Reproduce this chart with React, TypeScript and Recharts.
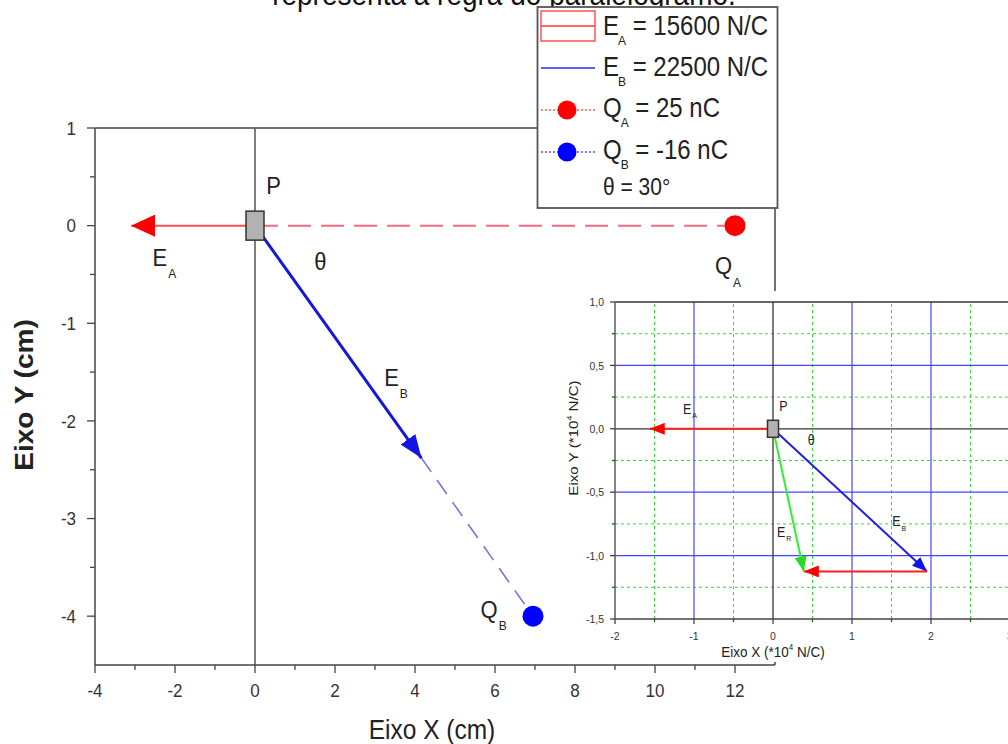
import React from 'react';
import { ComposedChart, Scatter, XAxis, YAxis, ReferenceLine, Label } from 'recharts';

const FONT = 'Arial, "Liberation Sans", Helvetica, sans-serif';
const SY = 1.12;
const AXIS = '#444';
const TXT = '#222';

// ---------- main chart (cm) ----------
const mainXTicks = [-4, -3, -2, -1, 0, 1, 2, 3, 4, 5, 6, 7, 8, 9, 10, 11, 12];
const mainYTicks = [1, 0.5, 0, -0.5, -1, -1.5, -2, -2.5, -3, -3.5, -4];
const pointP = [{ x: 0, y: 0 }];
const chargeA = [{ x: 12, y: 0 }];
const chargeB = [{ x: 6.95, y: -4 }];
const fieldA = [{ x: 0, y: 0 }, { x: -3.1, y: 0 }];
const guideA = [{ x: 0, y: 0 }, { x: 12, y: 0 }];
const fieldB = [{ x: 0, y: 0 }, { x: 4.16, y: -2.38 }];
const guideB = [{ x: 4.16, y: -2.38 }, { x: 6.95, y: -4 }];
const mainLabels = [
  { x: 0.28, y: 0.32, text: 'P', sub: '' },
  { x: 1.48, y: -0.45, text: 'θ', sub: '' },
  { x: -2.56, y: -0.41, text: 'E', sub: 'A' },
  { x: 11.5, y: -0.5, text: 'Q', sub: 'A' },
  { x: 3.23, y: -1.64, text: 'E', sub: 'B' },
  { x: 5.64, y: -4.02, text: 'Q', sub: 'B' },
];

// ---------- inset chart (*10^4 N/C) ----------
const insetXTicks = [-2, -1.5, -1, -0.5, 0, 0.5, 1, 1.5, 2, 2.5, 3];
const insetYTicks = [1, 0.75, 0.5, 0.25, 0, -0.25, -0.5, -0.75, -1, -1.25, -1.5];
const insetMajorX = [-1, 1, 2];
const insetMinorX = [-1.5, -0.5, 0.5, 1.5, 2.5];
const insetMajorY = [0.5, -0.5, -1];
const insetMinorY = [0.75, 0.25, -0.25, -0.75, -1.25];
const insetP = [{ x: 0, y: 0 }];
const insetEA = [{ x: 0, y: 0 }, { x: -1.56, y: 0 }];
const insetEB = [{ x: 0, y: 0 }, { x: 1.95, y: -1.125 }];
const insetEAshift = [{ x: 1.95, y: -1.125 }, { x: 0.39, y: -1.125 }];
const insetER = [{ x: 0, y: 0 }, { x: 0.39, y: -1.125 }];
const insetLabels = [
  { x: 0.08, y: 0.14, text: 'P', sub: '' },
  { x: 0.44, y: -0.13, text: 'θ', sub: '' },
  { x: -1.14, y: 0.12, text: 'E', sub: 'A' },
  { x: 1.51, y: -0.77, text: 'E', sub: 'B' },
  { x: 0.05, y: -0.85, text: 'E', sub: 'R' },
];

// ---------- legend ----------
const legendRows = [
  { main: 'E', sub: 'A', rest: ' = 15600 N/C', kind: 'box', color: '#ff3a3a' },
  { main: 'E', sub: 'B', rest: ' = 22500 N/C', kind: 'line', color: '#2a2aff' },
  { main: 'Q', sub: 'A', rest: ' = 25 nC', kind: 'dot', color: '#ff0000' },
  { main: 'Q', sub: 'B', rest: ' = -16 nC', kind: 'dot', color: '#0000ff' },
  { main: 'θ = 30°', sub: '', rest: '', kind: 'none', color: '' },
];
const titleText = 'representa a regra do paralelogramo.';

const noShape = () => <g />;

const makeTick = (o: { side: 'left' | 'bottom'; major: (v: number) => boolean; fmt: (v: number) => string; big: number; small: number; fs: number; off: number; }) =>
  (props: any) => {
    const { x, y, payload } = props;
    const v = payload.value as number;
    const mj = o.major(v);
    const len = mj ? o.big : o.small;
    if (o.side === 'left') {
      return (
        <g>
          <line x1={x} x2={x - len} y1={y} y2={y} stroke={AXIS} strokeWidth={1.3} />
          {mj && (
            <text transform={`translate(${x - o.off},${y + o.fs * 0.716 * SY / 2}) scale(1,${SY})`} textAnchor="end" fontFamily={FONT} fontSize={o.fs} fill="#333">
              {o.fmt(v)}
            </text>
          )}
        </g>
      );
    }
    return (
      <g>
        <line x1={x} x2={x} y1={y} y2={y + len} stroke={AXIS} strokeWidth={1.3} />
        {mj && (
          <text transform={`translate(${x},${y + o.off}) scale(1,${SY})`} textAnchor="middle" fontFamily={FONT} fontSize={o.fs} fill="#333">
            {o.fmt(v)}
          </text>
        )}
      </g>
    );
  };

const MainYTick = makeTick({ side: 'left', major: (v) => Number.isInteger(v), fmt: (v) => String(v), big: 8, small: 5, fs: 17, off: 19 });
const MainXTick = makeTick({ side: 'bottom', major: (v) => v % 2 === 0, fmt: (v) => String(v), big: 8, small: 5, fs: 17, off: 32 });
const comma = (v: number) => v.toFixed(1).replace('.', ',');
const InsetYTick = makeTick({ side: 'left', major: (v) => Number.isInteger(v * 2), fmt: comma, big: 5, small: 3, fs: 10.5, off: 11 });
const InsetXTick = makeTick({ side: 'bottom', major: (v) => Number.isInteger(v), fmt: (v) => String(v), big: 5, small: 3, fs: 10.5, off: 21 });

const labelShape = (fs: number, sfs: number, sdy: number) => (props: any) => {
  const { cx, cy, payload } = props;
  return (
    <text transform={`translate(${cx},${cy}) scale(1,${SY})`} fontFamily={FONT} fontSize={fs} fill={TXT}>
      {payload.text}
      {payload.sub ? <tspan fontSize={sfs} dx={1} dy={sdy}>{payload.sub}</tspan> : null}
    </text>
  );
};

const rectShape = (w: number, h: number) => (props: any) => (
  <rect x={props.cx - w / 2} y={props.cy - h / 2} width={w} height={h} fill="#b2b2b2" stroke="#333" strokeWidth={1.5} />
);
const circleShape = (r: number, color: string) => (props: any) => (
  <circle cx={props.cx} cy={props.cy} r={r} fill={color} />
);

const marker = (id: string, len: number, wid: number, color: string) => (
  <marker id={id} markerUnits="userSpaceOnUse" viewBox={`0 0 ${len} ${wid}`} markerWidth={len} markerHeight={wid} refX={len} refY={wid / 2} orient="auto">
    <path d={`M0,0 L${len},${wid / 2} L0,${wid} Z`} fill={color} />
  </marker>
);

function MainChart() {
  return (
    <ComposedChart width={1008} height={744} margin={{ top: 128, right: 233, bottom: 0, left: 0 }}>
      <defs>
        {marker('ahRedBig', 24, 22, '#ff0000')}
        {marker('ahBlueBig', 23, 18, '#1414e6')}
      </defs>
      <XAxis type="number" dataKey="x" domain={[-4, 13]} allowDataOverflow ticks={mainXTicks} interval={0} tickSize={0} tickMargin={0} tickLine={false} tick={<MainXTick />} height={79} axisLine={{ stroke: AXIS, strokeWidth: 1.5 }}>
        <Label content={(p: any) => {
          const vb = p.viewBox;
          return (
            <text transform={`translate(${vb.x + vb.width / 2 - 3},${vb.y + 74}) scale(1,${SY})`} textAnchor="middle" fontFamily={FONT} fontSize={24.5} fill={TXT}>Eixo X (cm)</text>
          );
        }} />
      </XAxis>
      <YAxis type="number" dataKey="y" domain={[-4.5, 1]} allowDataOverflow ticks={mainYTicks} interval={0} tickSize={0} tickMargin={0} tickLine={false} tick={<MainYTick />} width={95} axisLine={{ stroke: AXIS, strokeWidth: 1.5 }}>
        <Label content={(p: any) => {
          const vb = p.viewBox;
          return (
            <text transform={`translate(${vb.x + 33},${vb.y + vb.height / 2 - 1.5}) scale(1,${SY}) rotate(-90)`} textAnchor="middle" fontFamily={FONT} fontSize={25} fontWeight="bold" fill={TXT}>Eixo Y (cm)</text>
          );
        }} />
      </YAxis>
      <ReferenceLine y={1} stroke={AXIS} strokeWidth={1.5} />
      <ReferenceLine x={13} stroke={AXIS} strokeWidth={1.5} />
      <ReferenceLine x={0} stroke="#555" strokeWidth={1.5} />
      <Scatter data={guideA} line={{ stroke: '#f26b80', strokeWidth: 2, strokeDasharray: '23 10' }} shape={noShape} isAnimationActive={false} />
      <Scatter data={guideB} line={{ stroke: '#7777d6', strokeWidth: 1.6, strokeDasharray: '17 10' }} shape={noShape} isAnimationActive={false} />
      <Scatter data={fieldA} line={{ stroke: '#ff5050', strokeWidth: 2, markerEnd: 'url(#ahRedBig)' }} shape={noShape} isAnimationActive={false} />
      <Scatter data={fieldB} line={{ stroke: '#1616d8', strokeWidth: 3, markerEnd: 'url(#ahBlueBig)' }} shape={noShape} isAnimationActive={false} />
      <Scatter data={pointP} shape={rectShape(18, 29)} isAnimationActive={false} />
      <Scatter data={chargeA} shape={circleShape(10.5, '#ff0000')} isAnimationActive={false} />
      <Scatter data={chargeB} shape={circleShape(10.5, '#0000ff')} isAnimationActive={false} />
      <Scatter data={mainLabels} shape={labelShape(22, 12, 11)} isAnimationActive={false} />
    </ComposedChart>
  );
}

function InsetChart() {
  return (
    <ComposedChart width={460} height={371} margin={{ top: 11, right: 2, bottom: 0, left: 0 }}>
      <defs>
        {marker('ahRedS', 15, 12, '#ff0000')}
        {marker('ahBlueS', 15, 12, '#1414e6')}
        {marker('ahGreenS', 15, 12, '#22dd22')}
      </defs>
      <XAxis type="number" dataKey="x" domain={[-2, 3]} allowDataOverflow ticks={insetXTicks} interval={0} tickSize={0} tickMargin={0} tickLine={false} tick={<InsetXTick />} height={43} axisLine={{ stroke: AXIS, strokeWidth: 1.3 }}>
        <Label content={(p: any) => {
          const vb = p.viewBox;
          return (
            <text transform={`translate(${vb.x + 158},${vb.y + 38}) scale(1,${SY})`} textAnchor="middle" fontFamily={FONT} fontSize={13.5} fill={TXT}>
              Eixo X (*10<tspan fontSize={8} dy={-6}>4</tspan><tspan dy={6}> N/C)</tspan>
            </text>
          );
        }} />
      </XAxis>
      <YAxis type="number" dataKey="y" domain={[-1.5, 1]} allowDataOverflow ticks={insetYTicks} interval={0} tickSize={0} tickMargin={0} tickLine={false} tick={<InsetYTick />} width={63} axisLine={{ stroke: AXIS, strokeWidth: 1.3 }}>
        <Label content={(p: any) => {
          const vb = p.viewBox;
          return (
            <text transform={`translate(${vb.x + 26},${vb.y + 136}) scale(1,${SY}) rotate(-90)`} textAnchor="middle" fontFamily={FONT} fontSize={13.5} fill={TXT}>
              Eixo Y (*10<tspan fontSize={8} dy={-6}>4</tspan><tspan dy={6}> N/C)</tspan>
            </text>
          );
        }} />
      </YAxis>
      {insetMinorX.map((v) => <ReferenceLine key={'mx' + v} x={v} stroke="#33dd33" strokeWidth={1} strokeDasharray="3 3" />)}
      {insetMinorY.map((v) => <ReferenceLine key={'my' + v} y={v} stroke="#33dd33" strokeWidth={1} strokeDasharray="3 3" />)}
      {insetMajorX.map((v) => <ReferenceLine key={'Mx' + v} x={v} stroke="#4545ff" strokeWidth={1.2} />)}
      {insetMajorY.map((v) => <ReferenceLine key={'My' + v} y={v} stroke="#4545ff" strokeWidth={1.2} />)}
      <ReferenceLine x={0} stroke="#333" strokeWidth={1.3} />
      <ReferenceLine y={0} stroke="#333" strokeWidth={1.3} />
      <ReferenceLine y={1} stroke="#333" strokeWidth={1.3} />
      <Scatter data={insetEA} line={{ stroke: '#ff2020', strokeWidth: 2, markerEnd: 'url(#ahRedS)' }} shape={noShape} isAnimationActive={false} />
      <Scatter data={insetEB} line={{ stroke: '#2020d8', strokeWidth: 2, markerEnd: 'url(#ahBlueS)' }} shape={noShape} isAnimationActive={false} />
      <Scatter data={insetEAshift} line={{ stroke: '#ff2020', strokeWidth: 2, markerEnd: 'url(#ahRedS)' }} shape={noShape} isAnimationActive={false} />
      <Scatter data={insetER} line={{ stroke: '#33ee33', strokeWidth: 2, markerEnd: 'url(#ahGreenS)' }} shape={noShape} isAnimationActive={false} />
      <Scatter data={insetP} shape={rectShape(11, 17)} isAnimationActive={false} />
      <Scatter data={insetLabels} shape={labelShape(12.5, 7, 4)} isAnimationActive={false} />
    </ComposedChart>
  );
}

const legendBase = [35, 76, 117, 159, 195];

function Overlay() {
  return (
    <svg width={1008} height={744} style={{ position: 'absolute', left: 0, top: 0 }}>
      <text transform={`translate(504,5) scale(1,${SY})`} textAnchor="middle" fontFamily={FONT} fontSize={28} fill="#111">{titleText}</text>
      <rect x={537.5} y={7} width={240} height={201} fill="#fff" stroke="#555" strokeWidth={1.8} />
      {legendRows.map((r, i) => {
        const b = legendBase[i];
        let sym: React.ReactNode = null;
        if (r.kind === 'box') {
          sym = (
            <g>
              <rect x={541} y={11} width={54} height={30} fill="none" stroke={r.color} strokeWidth={1.3} />
              <line x1={541} x2={595} y1={26} y2={26} stroke={r.color} strokeWidth={1.3} />
            </g>
          );
        } else if (r.kind === 'line') {
          sym = <line x1={541} x2={595} y1={68} y2={68} stroke={r.color} strokeWidth={1.6} />;
        } else if (r.kind === 'dot') {
          const cy = i === 2 ? 110 : 152;
          sym = (
            <g>
              <line x1={541} x2={595} y1={cy} y2={cy} stroke={r.color} strokeWidth={1.2} strokeDasharray="2 2" />
              <circle cx={567} cy={cy} r={9.5} fill={r.color} />
            </g>
          );
        }
        return (
          <g key={i}>
            {sym}
            <text transform={`translate(603,${b}) scale(1,${SY})`} fontFamily={FONT} fontSize={r.kind === 'none' ? 21 : 24} fill={TXT}>
              {r.main}
              {r.sub ? <tspan fontSize={12} dx={-1} dy={9}>{r.sub}</tspan> : null}
              {r.rest ? <tspan dy={r.sub ? -9 : 0}>{r.rest}</tspan> : null}
            </text>
          </g>
        );
      })}
    </svg>
  );
}

export default function App() {
  return (
    <div style={{ position: 'absolute', left: 0, top: 0, width: 1008, height: 744, overflow: 'hidden', background: '#fff' }}>
      <div style={{ position: 'absolute', left: 0, top: 0 }}>
        <MainChart />
      </div>
      <Overlay />
      <div style={{ position: 'absolute', left: 552, top: 291, width: 456, height: 371, overflow: 'hidden', background: '#fff' }}>
        <InsetChart />
      </div>
    </div>
  );
}
